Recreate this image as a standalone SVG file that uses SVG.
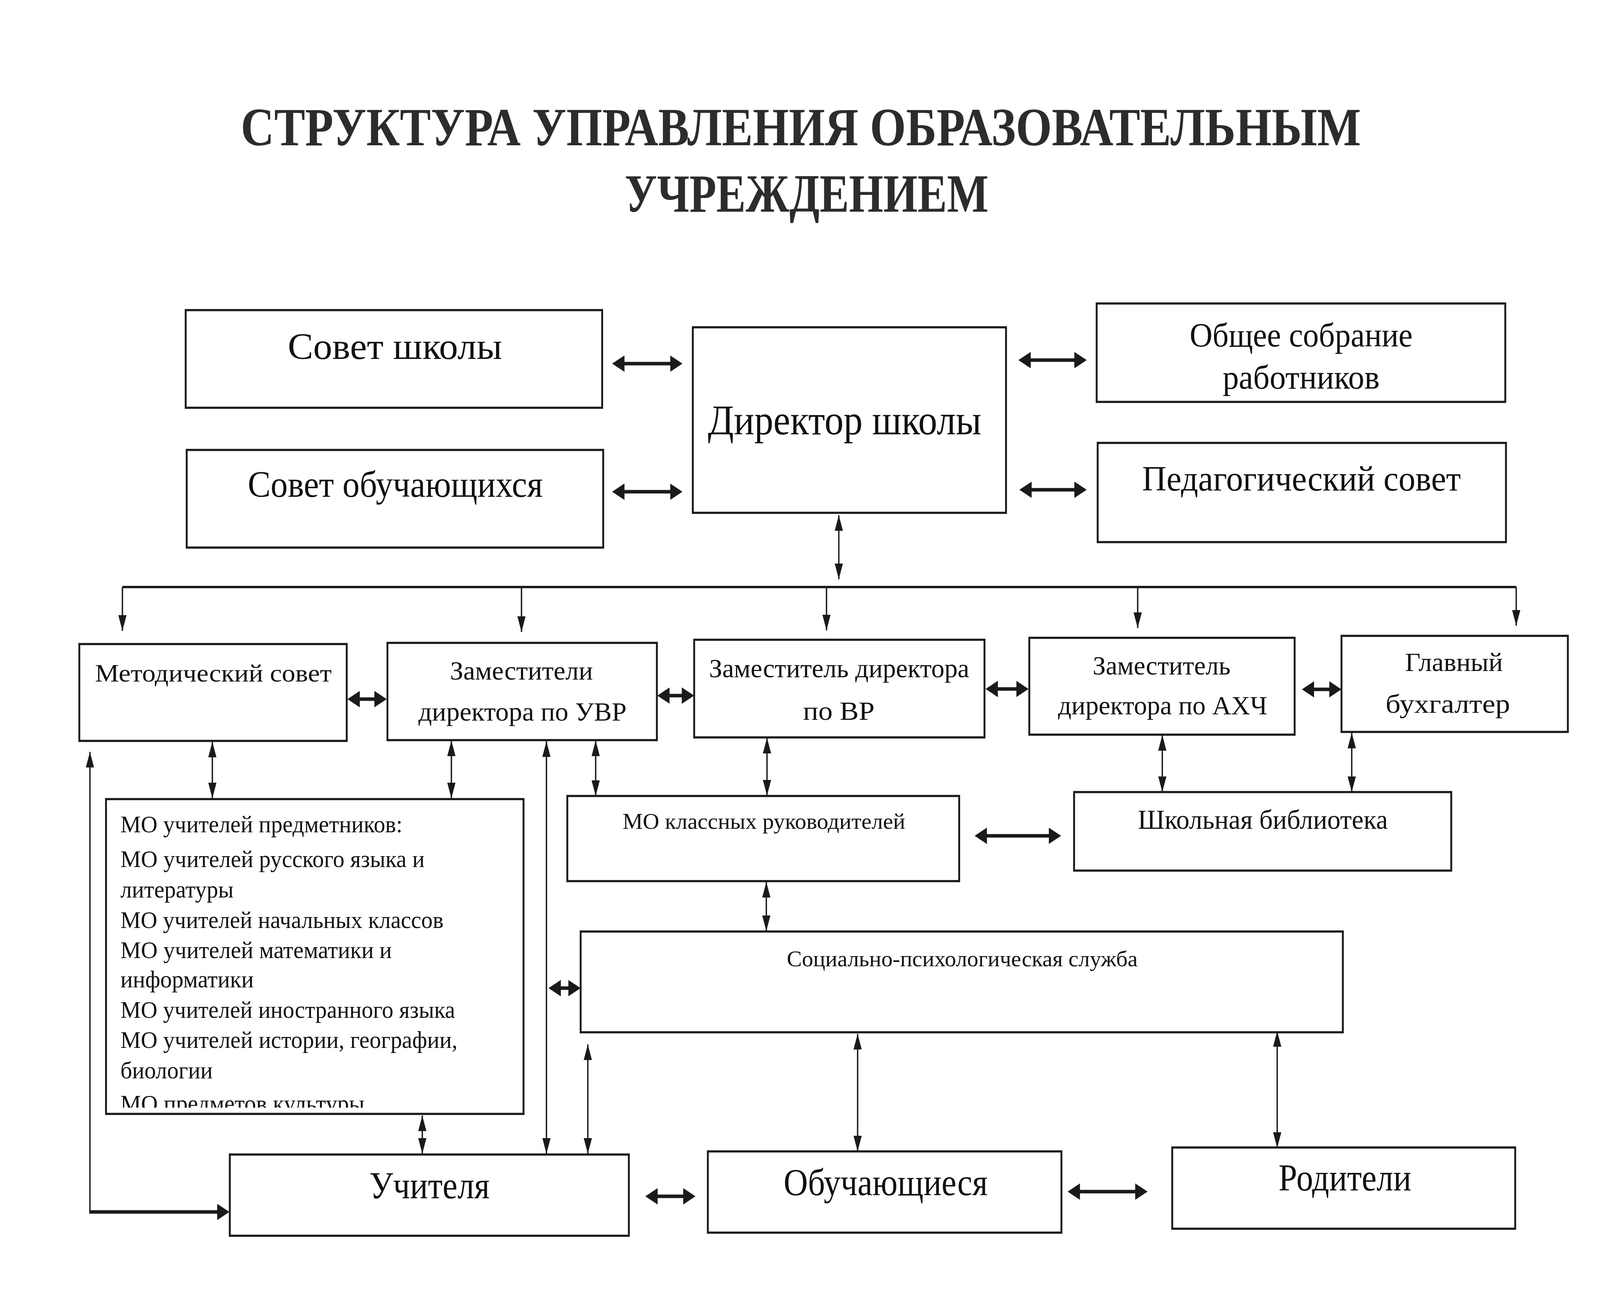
<svg xmlns="http://www.w3.org/2000/svg" width="4679" height="3308" viewBox="0 0 4679 3308" preserveAspectRatio="none" style="width:100vw;height:100vh;display:block">
<style>
.box{fill:#fff;stroke:#1a1a1a;stroke-width:5.5}
.t{font-family:"Liberation Serif","Times New Roman",serif;fill:#111}
.c{text-anchor:middle}
.ttl{font-family:"Liberation Serif","Times New Roman",serif;font-weight:bold;fill:#2c2c2c;text-anchor:middle}
.ln{fill:none;stroke:#1a1a1a;stroke-width:4}
.bus{fill:none;stroke:#1a1a1a;stroke-width:6}
.bd{fill:none;stroke:#1a1a1a;stroke-width:9}
</style>
<defs>
<marker id="hb" viewBox="0 0 10 10" refX="2" refY="5" markerWidth="36" markerHeight="42" markerUnits="userSpaceOnUse" orient="auto-start-reverse" preserveAspectRatio="none"><path d="M0,0L10,5L0,10z" fill="#1a1a1a"/></marker>
<marker id="tv" viewBox="0 0 10 10" refX="10" refY="5" markerWidth="40" markerHeight="24" markerUnits="userSpaceOnUse" orient="auto-start-reverse" preserveAspectRatio="none"><path d="M0,0L10,5L0,10z" fill="#1a1a1a"/></marker>
<clipPath id="moclip"><rect x="310" y="2044" width="1221" height="792"/></clipPath>
</defs>
<rect width="4679" height="3308" fill="#fff"/>

<g id="title">
<text class="ttl" x="2342" y="372" font-size="138" textLength="3276" lengthAdjust="spacingAndGlyphs">СТРУКТУРА УПРАВЛЕНИЯ ОБРАЗОВАТЕЛЬНЫМ</text>
<text class="ttl" x="2359" y="542" font-size="138" textLength="1064" lengthAdjust="spacingAndGlyphs">УЧРЕЖДЕНИЕМ</text>
</g>

<g id="connectors">
<line class="bd" x1="1819" y1="931" x2="1967" y2="931" marker-start="url(#hb)" marker-end="url(#hb)"/>
<line class="bd" x1="1819" y1="1259" x2="1967" y2="1259" marker-start="url(#hb)" marker-end="url(#hb)"/>
<line class="bd" x1="3007" y1="922" x2="3149" y2="922" marker-start="url(#hb)" marker-end="url(#hb)"/>
<line class="bd" x1="3010" y1="1254" x2="3149" y2="1254" marker-start="url(#hb)" marker-end="url(#hb)"/>
<line class="ln" x1="2453" y1="1319" x2="2453" y2="1483" marker-start="url(#tv)" marker-end="url(#tv)"/>
<line class="bus" x1="358" y1="1503" x2="4434" y2="1503"/>
<line class="ln" x1="358" y1="1503" x2="358" y2="1615" marker-end="url(#tv)"/>
<line class="ln" x1="1525" y1="1503" x2="1525" y2="1618" marker-end="url(#tv)"/>
<line class="ln" x1="2417" y1="1503" x2="2417" y2="1614" marker-end="url(#tv)"/>
<line class="ln" x1="3327" y1="1503" x2="3327" y2="1608" marker-end="url(#tv)"/>
<line class="ln" x1="4434" y1="1503" x2="4434" y2="1602" marker-end="url(#tv)"/>
<line class="bd" x1="1045" y1="1790" x2="1102" y2="1790" marker-start="url(#hb)" marker-end="url(#hb)"/>
<line class="bd" x1="1951" y1="1781" x2="2001" y2="1781" marker-start="url(#hb)" marker-end="url(#hb)"/>
<line class="bd" x1="2911" y1="1764" x2="2979" y2="1764" marker-start="url(#hb)" marker-end="url(#hb)"/>
<line class="bd" x1="3836" y1="1765" x2="3894" y2="1765" marker-start="url(#hb)" marker-end="url(#hb)"/>
<line class="ln" x1="621" y1="1899" x2="621" y2="2044" marker-start="url(#tv)" marker-end="url(#tv)"/>
<line class="ln" x1="1320" y1="1896" x2="1320" y2="2044" marker-start="url(#tv)" marker-end="url(#tv)"/>
<line class="ln" x1="1742" y1="1896" x2="1742" y2="2038" marker-start="url(#tv)" marker-end="url(#tv)"/>
<line class="ln" x1="1598" y1="1898" x2="1598" y2="2954" marker-start="url(#tv)" marker-end="url(#tv)"/>
<line class="ln" x1="2243" y1="1889" x2="2243" y2="2037" marker-start="url(#tv)" marker-end="url(#tv)"/>
<line class="ln" x1="3399" y1="1882" x2="3399" y2="2028" marker-start="url(#tv)" marker-end="url(#tv)"/>
<line class="ln" x1="3953" y1="1876" x2="3953" y2="2028" marker-start="url(#tv)" marker-end="url(#tv)"/>
<line class="bd" x1="2879" y1="2140" x2="3074" y2="2140" marker-start="url(#hb)" marker-end="url(#hb)"/>
<line class="ln" x1="2241" y1="2258" x2="2241" y2="2384" marker-start="url(#tv)" marker-end="url(#tv)"/>
<line class="bd" x1="1633" y1="2530" x2="1669" y2="2530" marker-start="url(#hb)" marker-end="url(#hb)"/>
<line class="ln" x1="1719" y1="2674" x2="1719" y2="2954" marker-start="url(#tv)" marker-end="url(#tv)"/>
<line class="ln" x1="2508" y1="2647" x2="2508" y2="2948" marker-start="url(#tv)" marker-end="url(#tv)"/>
<line class="ln" x1="3735" y1="2640" x2="3735" y2="2939" marker-start="url(#tv)" marker-end="url(#tv)"/>
<line class="ln" x1="1235" y1="2856" x2="1235" y2="2954" marker-start="url(#tv)" marker-end="url(#tv)"/>
<line class="ln" x1="263" y1="3103" x2="263" y2="1925" marker-end="url(#tv)"/>
<line class="bd" x1="642" y1="3103" x2="261" y2="3103" marker-start="url(#hb)"/>
<line class="bd" x1="1916" y1="3063" x2="2005" y2="3063" marker-start="url(#hb)" marker-end="url(#hb)"/>
<line class="bd" x1="3151" y1="3051" x2="3327" y2="3051" marker-start="url(#hb)" marker-end="url(#hb)"/>
</g>

<g id="sovet-shkoly">
<rect class="box" x="543" y="794" width="1218" height="250"/>
<text class="t c" x="1155" y="919" font-size="96" textLength="627" lengthAdjust="spacingAndGlyphs">Совет школы</text>
</g>
<g id="sovet-obuch">
<rect class="box" x="546" y="1152" width="1218" height="250"/>
<text class="t c" x="1156" y="1272" font-size="96" textLength="863" lengthAdjust="spacingAndGlyphs">Совет обучающихся</text>
</g>
<g id="direktor">
<rect class="box" x="2026" y="838" width="916" height="475"/>
<text class="t c" x="2470" y="1112" font-size="108" textLength="800" lengthAdjust="spacingAndGlyphs">Директор школы</text>
</g>
<g id="obshchee-sobranie">
<rect class="box" x="3207" y="777" width="1195" height="252"/>
<text class="t c" x="3805" y="887" font-size="86" textLength="652" lengthAdjust="spacingAndGlyphs">Общее собрание</text>
<text class="t c" x="3805" y="995" font-size="86" textLength="459" lengthAdjust="spacingAndGlyphs">работников</text>
</g>
<g id="pedsovet">
<rect class="box" x="3210" y="1134" width="1194" height="254"/>
<text class="t c" x="3806" y="1256" font-size="92" textLength="932" lengthAdjust="spacingAndGlyphs">Педагогический совет</text>
</g>

<g id="metod-sovet">
<rect class="box" x="232" y="1649" width="782" height="248"/>
<text class="t c" x="624" y="1745" font-size="64" textLength="692" lengthAdjust="spacingAndGlyphs">Методический совет</text>
</g>
<g id="zam-uvr">
<rect class="box" x="1133" y="1646" width="788" height="249"/>
<text class="t c" x="1525" y="1740" font-size="68" textLength="418" lengthAdjust="spacingAndGlyphs">Заместители</text>
<text class="t c" x="1528" y="1845" font-size="68" textLength="609" lengthAdjust="spacingAndGlyphs">директора по УВР</text>
</g>
<g id="zam-vr">
<rect class="box" x="2030" y="1638" width="849" height="250"/>
<text class="t c" x="2454" y="1734" font-size="68" textLength="761" lengthAdjust="spacingAndGlyphs">Заместитель директора</text>
<text class="t c" x="2453" y="1843" font-size="68" textLength="209" lengthAdjust="spacingAndGlyphs">по ВР</text>
</g>
<g id="zam-ahch">
<rect class="box" x="3010" y="1633" width="776" height="248"/>
<text class="t c" x="3397" y="1727" font-size="68" textLength="403" lengthAdjust="spacingAndGlyphs">Заместитель</text>
<text class="t c" x="3400" y="1829" font-size="68" textLength="612" lengthAdjust="spacingAndGlyphs">директора по АХЧ</text>
</g>
<g id="glavbuh">
<rect class="box" x="3923" y="1628" width="662" height="246"/>
<text class="t c" x="4252" y="1718" font-size="68" textLength="286" lengthAdjust="spacingAndGlyphs">Главный</text>
<text class="t c" x="4234" y="1825" font-size="68" textLength="364" lengthAdjust="spacingAndGlyphs">бухгалтер</text>
</g>

<g id="mo-predmetnikov">
<rect class="box" x="310" y="2046" width="1221" height="806"/>
<g clip-path="url(#moclip)">
<text class="t" x="352" y="2131" font-size="62" textLength="825" lengthAdjust="spacingAndGlyphs">МО учителей предметников:</text>
<text class="t" x="352" y="2220" font-size="62" textLength="890" lengthAdjust="spacingAndGlyphs">МО учителей русского языка и</text>
<text class="t" x="352" y="2298" font-size="62" textLength="331" lengthAdjust="spacingAndGlyphs">литературы</text>
<text class="t" x="352" y="2376" font-size="62" textLength="945" lengthAdjust="spacingAndGlyphs">МО учителей начальных классов</text>
<text class="t" x="352" y="2453" font-size="62" textLength="794" lengthAdjust="spacingAndGlyphs">МО учителей математики и</text>
<text class="t" x="352" y="2528" font-size="62" textLength="390" lengthAdjust="spacingAndGlyphs">информатики</text>
<text class="t" x="352" y="2606" font-size="62" textLength="979" lengthAdjust="spacingAndGlyphs">МО учителей иностранного языка</text>
<text class="t" x="352" y="2683" font-size="62" textLength="986" lengthAdjust="spacingAndGlyphs">МО учителей истории, географии,</text>
<text class="t" x="352" y="2761" font-size="62" textLength="270" lengthAdjust="spacingAndGlyphs">биологии</text>
<text class="t" x="352" y="2846" font-size="62" textLength="714" lengthAdjust="spacingAndGlyphs">МО предметов культуры</text>
</g>
</g>
<g id="mo-klassnyh">
<rect class="box" x="1659" y="2038" width="1146" height="218"/>
<text class="t c" x="2234" y="2122" font-size="58" textLength="827" lengthAdjust="spacingAndGlyphs">МО классных руководителей</text>
</g>
<g id="biblioteka">
<rect class="box" x="3141" y="2028" width="1103" height="201"/>
<text class="t c" x="3693" y="2122" font-size="70" textLength="731" lengthAdjust="spacingAndGlyphs">Школьная библиотека</text>
</g>
<g id="soc-psih">
<rect class="box" x="1698" y="2385" width="2229" height="258"/>
<text class="t c" x="2814" y="2474" font-size="58" textLength="1026" lengthAdjust="spacingAndGlyphs">Социально-психологическая служба</text>
</g>
<g id="uchitelya">
<rect class="box" x="672" y="2956" width="1167" height="208"/>
<text class="t c" x="1256" y="3068" font-size="98" textLength="352" lengthAdjust="spacingAndGlyphs">Учителя</text>
</g>
<g id="obuchayushchiesya">
<rect class="box" x="2070" y="2948" width="1034" height="208"/>
<text class="t c" x="2590" y="3060" font-size="97" textLength="597" lengthAdjust="spacingAndGlyphs">Обучающиеся</text>
</g>
<g id="roditeli">
<rect class="box" x="3428" y="2938" width="1003" height="208"/>
<text class="t c" x="3933" y="3048" font-size="97" textLength="388" lengthAdjust="spacingAndGlyphs">Родители</text>
</g>
</svg>
